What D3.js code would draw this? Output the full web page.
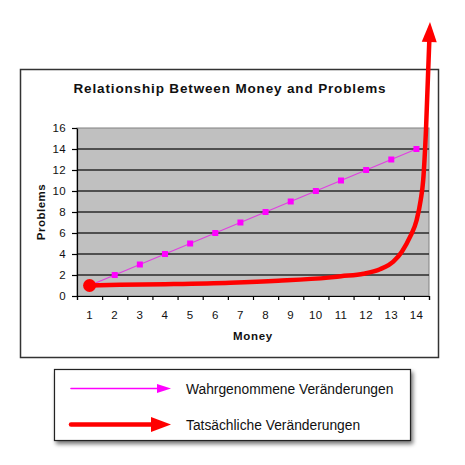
<!DOCTYPE html>
<html>
<head>
<meta charset="utf-8">
<script src="https://cdn.jsdelivr.net/npm/d3@7"></script>
<style>
  html, body { margin: 0; padding: 0; background: #fff; }
  svg { display: block; font-family: "Liberation Sans", Arial, Helvetica, sans-serif; }
</style>
</head>
<body>
<svg id="chart" width="465" height="465"></svg>
<script>
// Categories (money) and the perceived trend: one problem per unit of money
const money = [1, 2, 3, 4, 5, 6, 7, 8, 9, 10, 11, 12, 13, 14];
const perceived = [1, 2, 3, 4, 5, 6, 7, 8, 9, 10, 11, 12, 13, 14];

// Actual trend: flat for a long time, then shoots off the top of the chart
const actualMoney =    [1.0, 2.2, 4.0, 6.6, 8.5, 10.5, 11.0, 11.9, 12.55, 13.08, 13.42, 13.75, 14.01, 14.17, 14.27, 14.38, 14.54];
const actualProblems = [1.0, 1.06, 1.13, 1.27, 1.45, 1.75, 1.88, 2.12, 2.55, 3.27, 4.22, 5.65, 7.24, 9.14, 11.05, 15.8, 26.1];

const yTicks = [0, 2, 4, 6, 8, 10, 12, 14, 16];

const title = "Relationship Between Money and Problems";
const xTitle = "Money";
const yTitle = "Problems";
const legendLabels = ["Wahrgenommene Veränderungen", "Tatsächliche Veränderungen"];

const svg = d3.select("#chart");

// Outer chart frame
svg.append("rect")
  .attr("x", 20.5).attr("y", 69.5)
  .attr("width", 418).attr("height", 288)
  .attr("fill", "#fff").attr("stroke", "#333").attr("stroke-width", 1.5);

const plot = { left: 77, right: 429, top: 128, bottom: 296 };

const x = d3.scaleBand().domain(money).range([plot.left, plot.right]).padding(0);
const xLin = d3.scaleLinear().domain([0.5, 14.5]).range([plot.left, plot.right]);
const y = d3.scaleLinear().domain([0, 16]).range([plot.bottom, plot.top]);

// Plot area background
svg.append("rect")
  .attr("x", plot.left).attr("y", plot.top)
  .attr("width", plot.right - plot.left).attr("height", plot.bottom - plot.top)
  .attr("fill", "#c0c0c0").attr("stroke", "#808080").attr("stroke-width", 1);

// Horizontal gridlines
svg.append("g").selectAll("line")
  .data(yTicks.filter(d => d > 0 && d < 16))
  .join("line")
  .attr("x1", plot.left).attr("x2", plot.right)
  .attr("y1", d => y(d)).attr("y2", d => y(d))
  .attr("stroke", "#2a2a2a").attr("stroke-width", 1.6);

// Y axis
const yAxis = svg.append("g")
  .attr("transform", `translate(${plot.left},0)`)
  .call(d3.axisLeft(y).tickValues(yTicks).tickSize(5).tickSizeOuter(0).tickPadding(6));
yAxis.select(".domain").attr("stroke", "#000").attr("stroke-width", 1.2);
yAxis.selectAll(".tick line").attr("stroke", "#000").attr("stroke-width", 1.2);
yAxis.selectAll("text").attr("font-size", 11.5).attr("fill", "#111").attr("letter-spacing", 0.4);

// X axis: labels centred in each category, tick marks at category boundaries
const xAxis = svg.append("g")
  .attr("transform", `translate(0,${plot.bottom})`)
  .call(d3.axisBottom(x).tickSize(0).tickPadding(15));
xAxis.select(".domain").remove();
xAxis.selectAll("text").attr("font-size", 11.5).attr("fill", "#111").attr("letter-spacing", 0.4);

const xTickMarks = svg.append("g")
  .attr("transform", `translate(0,${plot.bottom})`)
  .call(d3.axisBottom(xLin).tickValues(d3.range(0.5, 15, 1)).tickSize(4).tickFormat(""));
xTickMarks.select(".domain").attr("stroke", "#000").attr("stroke-width", 1.2);
xTickMarks.selectAll(".tick line").attr("stroke", "#000").attr("stroke-width", 1.2);

// Titles
svg.append("text")
  .attr("x", 230).attr("y", 93)
  .attr("text-anchor", "middle")
  .attr("font-size", 13.5).attr("font-weight", "bold").attr("fill", "#111")
  .attr("letter-spacing", 0.85)
  .text(title);

svg.append("text")
  .attr("x", 253).attr("y", 340)
  .attr("text-anchor", "middle")
  .attr("font-size", 11.5).attr("font-weight", "bold").attr("fill", "#111")
  .attr("letter-spacing", 0.7)
  .text(xTitle);

svg.append("text")
  .attr("transform", "translate(45,212) rotate(-90)")
  .attr("text-anchor", "middle")
  .attr("font-size", 11.5).attr("font-weight", "bold").attr("fill", "#111")
  .attr("letter-spacing", 0.5)
  .text(yTitle);

// Perceived series: thin magenta line with square markers
const perceivedPts = money.map((m, i) => [x(m) + x.bandwidth() / 2, y(perceived[i])]);
svg.append("path")
  .attr("d", d3.line()(perceivedPts))
  .attr("fill", "none").attr("stroke", "#e040e0").attr("stroke-width", 1.2);
svg.append("g").selectAll("rect")
  .data(perceivedPts)
  .join("rect")
  .attr("x", d => d[0] - 3).attr("y", d => d[1] - 3)
  .attr("width", 6).attr("height", 6)
  .attr("fill", "#ff00ff");

// Actual series: thick red curve ending in an arrowhead above the chart
const actualPts = actualMoney.map((m, i) => [xLin(m), y(actualProblems[i])]);
const tip = actualPts[actualPts.length - 1];
const prev = actualPts[actualPts.length - 2];
const ang = Math.atan2(tip[1] - prev[1], tip[0] - prev[0]);
const headLen = 20, headHalf = 7.5;
const base = [tip[0] - headLen * Math.cos(ang), tip[1] - headLen * Math.sin(ang)];
const linePts = actualPts.slice(0, -1).concat([[base[0] + 2 * Math.cos(ang), base[1] + 2 * Math.sin(ang)]]);

svg.append("path")
  .attr("d", d3.line().curve(d3.curveMonotoneX)(linePts))
  .attr("fill", "none").attr("stroke", "#ff0000").attr("stroke-width", 4.5)
  .attr("stroke-linecap", "butt");

svg.append("polygon")
  .attr("points", [
    tip,
    [base[0] + headHalf * Math.sin(ang), base[1] - headHalf * Math.cos(ang)],
    [base[0] - headHalf * Math.sin(ang), base[1] + headHalf * Math.cos(ang)]
  ].map(p => p.join(",")).join(" "))
  .attr("fill", "#ff0000");

svg.append("circle")
  .attr("cx", actualPts[0][0]).attr("cy", actualPts[0][1])
  .attr("r", 6.5).attr("fill", "#ff0000");

// Legend box with drop shadow
const defs = svg.append("defs");
const f = defs.append("filter").attr("id", "shadow")
  .attr("x", "-10%").attr("y", "-10%").attr("width", "130%").attr("height", "140%");
f.append("feGaussianBlur").attr("in", "SourceAlpha").attr("stdDeviation", 2);
f.append("feOffset").attr("dx", 2).attr("dy", 3).attr("result", "ob");
f.append("feComponentTransfer").append("feFuncA").attr("type", "linear").attr("slope", 0.55);
const fm = f.append("feMerge");
fm.append("feMergeNode");
fm.append("feMergeNode").attr("in", "SourceGraphic");

svg.append("rect")
  .attr("x", 54.5).attr("y", 369.5).attr("width", 356).attr("height", 71)
  .attr("fill", "#fff").attr("stroke", "#222").attr("stroke-width", 1.2)
  .attr("filter", "url(#shadow)");

const legendColors = ["#ff00ff", "#ff0000"];
const legendWidths = [1.6, 4.5];
const legendHead = [[14, 4.5], [20, 7.5]];
const legendY = [388.5, 424.5];

legendLabels.forEach((label, i) => {
  const g = svg.append("g");
  const [hl, hh] = legendHead[i];
  const x0 = 71, x1 = 171, yy = legendY[i];
  g.append("line")
    .attr("x1", x0).attr("x2", x1 - hl + 1)
    .attr("y1", yy).attr("y2", yy)
    .attr("stroke", legendColors[i]).attr("stroke-width", legendWidths[i])
    .attr("stroke-linecap", "round");
  g.append("polygon")
    .attr("points", `${x1},${yy} ${x1 - hl},${yy - hh} ${x1 - hl},${yy + hh}`)
    .attr("fill", legendColors[i]);
  g.append("text")
    .attr("x", 186).attr("y", yy + 5)
    .attr("font-size", 13.8).attr("fill", "#111")
    .text(label);
});
</script>
</body>
</html>
